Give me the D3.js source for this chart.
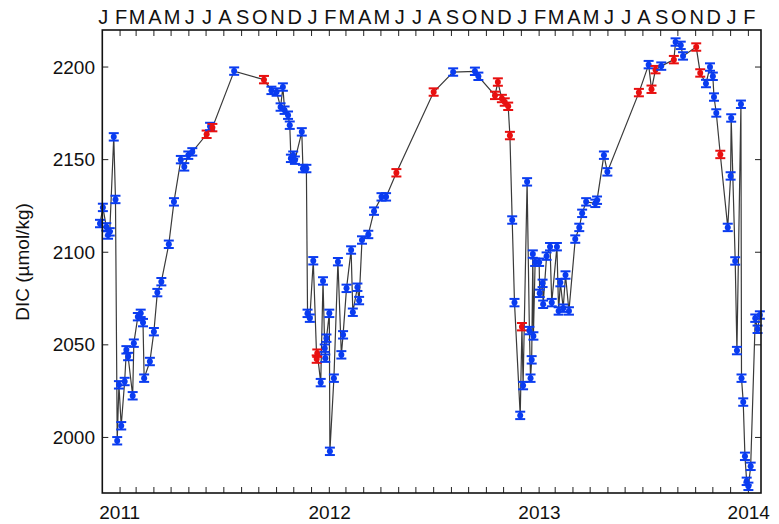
<!DOCTYPE html>
<html>
<head>
<meta charset="utf-8">
<script src="https://cdn.jsdelivr.net/npm/d3@7"></script>
<style>
  html, body { margin: 0; padding: 0; background: #fff; }
  svg { display: block; }
  text { font-family: "Liberation Sans", Arial, Helvetica, sans-serif; fill: #111; }
</style>
</head>
<body>
<svg id="chart" width="779" height="524"></svg>
<script>
// ---- Data ----
const sampleDates = [
  "2010-12-28","2011-01-02","2011-01-08","2011-01-11","2011-01-14","2011-01-21","2011-01-24","2011-01-27","2011-01-30","2011-02-03",
  "2011-02-09","2011-02-12","2011-02-15","2011-02-23","2011-02-25","2011-03-04","2011-03-09","2011-03-13","2011-03-15","2011-03-25",
  "2011-04-01","2011-04-07","2011-04-14","2011-04-27","2011-05-06","2011-05-18","2011-05-24","2011-05-31","2011-06-07","2011-07-02",
  "2011-07-08","2011-07-12","2011-08-19","2011-10-10","2011-10-23","2011-11-01","2011-11-08","2011-11-12","2011-11-15","2011-11-21",
  "2011-11-24","2011-11-26","2011-11-30","2011-12-03","2011-12-15","2011-12-17","2011-12-23","2011-12-25","2011-12-29","2012-01-04",
  "2012-01-10","2012-01-11","2012-01-17","2012-01-21","2012-01-24","2012-01-25","2012-01-27","2012-02-01","2012-02-02","2012-02-09",
  "2012-02-16","2012-02-22","2012-02-25","2012-03-02","2012-03-10","2012-03-13","2012-03-21","2012-03-24","2012-03-29","2012-04-09",
  "2012-04-19","2012-05-02","2012-05-10","2012-05-28","2012-08-01","2012-09-04","2012-10-12","2012-10-18","2012-11-16","2012-11-21",
  "2012-11-28","2012-12-03","2012-12-09","2012-12-12","2012-12-16","2012-12-20","2012-12-30","2013-01-02","2013-01-04","2013-01-11",
  "2013-01-15","2013-01-17","2013-01-19","2013-01-21","2013-01-22","2013-01-25","2013-02-01","2013-02-02","2013-02-07","2013-02-08",
  "2013-02-14","2013-02-20","2013-02-23","2013-03-04","2013-03-07","2013-03-10","2013-03-15","2013-03-19","2013-03-25","2013-04-05",
  "2013-04-12","2013-04-17","2013-04-24","2013-05-10","2013-05-13","2013-05-25","2013-05-31","2013-07-25","2013-08-11","2013-08-16",
  "2013-08-23","2013-09-02","2013-09-24","2013-09-27","2013-10-06","2013-10-10","2013-11-02","2013-11-09","2013-11-19","2013-11-26",
  "2013-12-01","2013-12-03","2013-12-07","2013-12-14","2013-12-27","2014-01-01","2014-01-02","2014-01-09","2014-01-12","2014-01-19",
  "2014-01-20","2014-01-23","2014-01-26","2014-01-29","2014-02-01","2014-02-05","2014-02-13","2014-02-17","2014-02-21"
];
const dicValues = [
  2115.5,2124.2,2113.7,2109.3,2111.0,2162.3,2128.5,1998.2,2028.4,2006.3,
  2030.2,2047.3,2043.7,2022.5,2050.9,2065.2,2067.0,2062.0,2032.0,2041.0,
  2057.1,2078.2,2084.1,2104.3,2127.2,2150.0,2146.1,2152.4,2154.2,2163.7,
  2167.9,2167.3,2197.8,2193.2,2187.4,2186.5,2178.4,2189.2,2176.7,2174.0,
  2168.6,2150.7,2152.4,2149.7,2165.0,2145.2,2145.2,2067.0,2064.4,2095.4,
  2042.3,2045.5,2029.6,2084.5,2048.2,2042.8,2053.6,2067.0,1992.5,2032.0,
  2094.9,2044.6,2055.4,2080.5,2101.2,2067.6,2081.1,2073.9,2106.6,2109.6,
  2122.2,2129.9,2129.9,2142.9,2186.5,2197.3,2197.7,2195.0,2184.7,2191.9,
  2183.0,2181.1,2178.8,2163.0,2117.4,2072.8,2011.9,2059.8,2028.0,2138.0,
  2057.7,2032.0,2041.9,2099.0,2054.8,2094.6,2094.6,2077.8,2083.2,2071.9,
  2097.9,2103.0,2072.8,2103.0,2068.3,2083.6,2069.8,2087.7,2068.3,2107.1,
  2113.4,2121.0,2127.2,2126.4,2128.1,2152.4,2143.4,2186.2,2201.3,2188.0,
  2198.6,2200.5,2204.0,2213.5,2211.7,2206.0,2210.8,2196.8,2191.1,2200.0,
  2195.0,2183.8,2175.2,2152.8,2113.4,2141.2,2172.5,2095.3,2046.9,2179.9,
  2032.0,2019.1,1989.8,1976.3,1973.6,1984.4,2064.4,2058.4,2066.1
];
// "b" = blue sample, "r" = red sample
const sampleType = [
  "b","b","b","b","b","b","b","b","b","b",
  "b","b","b","b","b","b","b","b","b","b",
  "b","b","b","b","b","b","b","b","b","r",
  "b","r","b","r","b","b","b","b","b","b",
  "b","b","b","b","b","b","b","b","b","b",
  "r","r","b","b","b","b","b","b","b","b",
  "b","b","b","b","b","b","b","b","b","b",
  "b","b","b","r","r","b","b","b","r","r",
  "r","r","r","r","b","b","b","r","b","b",
  "b","b","b","b","b","b","b","b","b","b",
  "b","b","b","b","b","b","b","b","b","b",
  "b","b","b","b","b","b","b","r","b","r",
  "r","b","r","b","b","b","r","r","b","b",
  "b","b","b","r","b","b","b","b","b","b",
  "b","b","b","b","b","b","b","b","b"
];
const dicError = 2;
const monthLetters = ["J","F","M","A","M","J","J","A","S","O","N","D"];
const yTicks = [2000, 2050, 2100, 2150, 2200];
const yearLabels = ["2011","2012","2013","2014"];
const xStart = "2011-01-01", xEnd = "2014-02-23";
const yDomain = [1970, 2220];

// ---- Chart ----
const svg = d3.select("#chart");
const margin = {left: 102.3, right: 761, top: 30, bottom: 493};
const parse = d3.utcParse("%Y-%m-%d");
const x = d3.scaleUtc().domain([parse(xStart), parse(xEnd)]).range([margin.left, margin.right]);
const y = d3.scaleLinear().domain(yDomain).range([margin.bottom, margin.top]);
const colors = {b: "#0a3cf0", r: "#e81010"};

const data = sampleDates.map((d, i) => ({date: parse(d), v: dicValues[i], t: sampleType[i]}));

// Month ticks (top & bottom, inward)
const months = d3.utcMonth.range(parse(xStart), parse(xEnd));
const tickLen = 6;
const g = svg.append("g");
g.selectAll("line.tt").data(months.slice(1)).join("line")
  .attr("x1", d => x(d)).attr("x2", d => x(d))
  .attr("y1", margin.top).attr("y2", margin.top + tickLen)
  .attr("stroke", "#222").attr("stroke-width", 1);
g.selectAll("line.bt").data(months.slice(1)).join("line")
  .attr("x1", d => x(d)).attr("x2", d => x(d))
  .attr("y1", margin.bottom).attr("y2", margin.bottom - tickLen)
  .attr("stroke", "#222").attr("stroke-width", 1);

// Top month letters
g.selectAll("text.ml").data(months).join("text")
  .attr("x", (d, i) => x(d) + (i === 0 ? 1 : 1))
  .attr("y", 24)
  .attr("text-anchor", "middle")
  .attr("font-size", 20)
  .text(d => monthLetters[d.getUTCMonth()]);

// Bottom year labels
g.selectAll("text.yl").data(yearLabels).join("text")
  .attr("x", d => x(parse(d + "-01-01")) - 3)
  .attr("y", 519)
  .attr("text-anchor", "start")
  .attr("font-size", 19)
  .text(d => d);

// Y ticks (left & right, inward)
g.selectAll("line.yl").data(yTicks).join("line")
  .attr("x1", margin.left).attr("x2", margin.left + tickLen)
  .attr("y1", d => y(d)).attr("y2", d => y(d))
  .attr("stroke", "#222").attr("stroke-width", 1);
g.selectAll("line.yr").data(yTicks).join("line")
  .attr("x1", margin.right).attr("x2", margin.right - tickLen)
  .attr("y1", d => y(d)).attr("y2", d => y(d))
  .attr("stroke", "#222").attr("stroke-width", 1);
g.selectAll("text.ytl").data(yTicks).join("text")
  .attr("x", 95).attr("y", d => y(d))
  .attr("dy", "0.35em")
  .attr("text-anchor", "end")
  .attr("font-size", 19)
  .text(d => d);

// Y label
svg.append("text")
  .attr("transform", "translate(29,262) rotate(-90)")
  .attr("text-anchor", "middle")
  .attr("font-size", 19)
  .text("DIC (µmol/kg)");

// Connecting line
svg.append("path")
  .datum(data)
  .attr("fill", "none")
  .attr("stroke", "#3a3a3a")
  .attr("stroke-width", 1.2)
  .attr("d", d3.line().x(d => x(d.date)).y(d => y(d.v)));

// Error bars + markers
const pts = svg.append("g").selectAll("g").data(data).join("g")
  .attr("stroke", d => colors[d.t]).attr("fill", d => colors[d.t]);
pts.append("line")
  .attr("x1", d => x(d.date)).attr("x2", d => x(d.date))
  .attr("y1", d => y(d.v - dicError)).attr("y2", d => y(d.v + dicError))
  .attr("stroke-width", 2.5);
pts.append("line")
  .attr("x1", d => x(d.date) - 5).attr("x2", d => x(d.date) + 5)
  .attr("y1", d => y(d.v + dicError)).attr("y2", d => y(d.v + dicError))
  .attr("stroke-width", 2);
pts.append("line")
  .attr("x1", d => x(d.date) - 5).attr("x2", d => x(d.date) + 5)
  .attr("y1", d => y(d.v - dicError)).attr("y2", d => y(d.v - dicError))
  .attr("stroke-width", 2);
pts.append("circle")
  .attr("cx", d => x(d.date)).attr("cy", d => y(d.v))
  .attr("r", 3).attr("stroke", "none");

// Frame
svg.append("rect")
  .attr("x", margin.left).attr("y", margin.top)
  .attr("width", margin.right - margin.left).attr("height", margin.bottom - margin.top)
  .attr("fill", "none").attr("stroke", "#111").attr("stroke-width", 1.6);
</script>
</body>
</html>
